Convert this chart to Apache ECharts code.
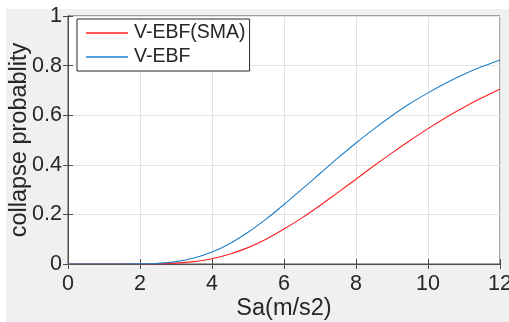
<!DOCTYPE html>
<html>
<head>
<meta charset="utf-8">
<script src="https://cdn.jsdelivr.net/npm/echarts@6/dist/echarts.min.js"></script>
<style>
  html, body { margin: 0; padding: 0; background: #fff; }
  #chart { width: 509px; height: 322px; }
</style>
</head>
<body>
<div id="chart"></div>
<script>
// Sa (m/s2) sample points
var saValues = [0, 0.5, 1, 1.5, 2, 2.5, 3, 3.5, 4, 4.5, 5, 5.5, 6, 6.5, 7, 7.5, 8, 8.5, 9, 9.5, 10, 10.5, 11, 11.5, 12];
// collapse probability, V-EBF(SMA)
var smaProb = [0, 0, 0, 0, 0.0001, 0.001, 0.0035, 0.0097, 0.021, 0.040, 0.066, 0.100, 0.141, 0.186, 0.236, 0.289, 0.342, 0.396, 0.448, 0.498, 0.546, 0.591, 0.632, 0.670, 0.706];
// collapse probability, V-EBF
var ebfProb = [0, 0, 0, 0, 0.0005, 0.0028, 0.0096, 0.024, 0.048, 0.083, 0.128, 0.181, 0.240, 0.302, 0.365, 0.428, 0.488, 0.545, 0.598, 0.647, 0.690, 0.730, 0.765, 0.796, 0.823];
var xTicks = [0, 2, 4, 6, 8, 10, 12];
var yTicks = [0, 0.2, 0.4, 0.6, 0.8, 1];

function pairs(ys) {
  return saValues.map(function (x, i) { return [x, ys[i]]; });
}

var font = 'Liberation Sans, Arial, Helvetica, sans-serif';
var textColor = '#262626';
var axisColor = '#4d4d4d';

var chart = echarts.init(document.getElementById('chart'));
var option = {
  animation: false,
  backgroundColor: '#fff',
  graphic: [{
    type: 'rect',
    z: -10,
    shape: { x: 6, y: 9, width: 503, height: 313 },
    style: { fill: '#f0f0f0' }
  }],
  grid: {
    left: 68, top: 16, width: 432, height: 248,
    outerBoundsMode: 'none',
    containLabel: false,
    show: true,
    backgroundColor: '#fff',
    borderColor: axisColor,
    borderWidth: 1
  },
  legend: {
    left: 77, top: 19,
    orient: 'vertical',
    icon: 'rect',
    itemWidth: 42,
    itemHeight: 1.3,
    itemGap: 4,
    padding: [4, 4, 4, 9],
    backgroundColor: '#fff',
    borderColor: '#262626',
    borderWidth: 1,
    borderRadius: 0,
    textStyle: { fontFamily: font, fontSize: 19.5, color: textColor, padding: [0, 0, 0, 1] },
    data: ['V-EBF(SMA)', 'V-EBF']
  },
  xAxis: [{
    type: 'value',
    min: 0, max: 12, interval: 2,
    name: 'Sa(m/s2)',
    nameLocation: 'middle',
    nameGap: 33,
    nameMoveOverlap: false,
    nameTextStyle: { fontFamily: font, fontSize: 23.5, color: textColor },
    axisLine: { show: true, lineStyle: { color: axisColor } },
    axisTick: { inside: true, length: 5, lineStyle: { color: axisColor } },
    axisLabel: { fontFamily: font, fontSize: 21.5, color: textColor, margin: 9,
      formatter: function (v) { return xTicks.indexOf(v) >= 0 ? String(v) : ''; } },
    splitLine: { show: true, lineStyle: { color: '#e3e3e3' } }
  }, {
    type: 'value',
    position: 'top',
    min: 0, max: 12, interval: 2,
    axisLine: { show: true, lineStyle: { color: axisColor } },
    axisTick: { inside: true, length: 5, lineStyle: { color: axisColor } },
    axisLabel: { show: false },
    splitLine: { show: false }
  }],
  yAxis: [{
    type: 'value',
    min: 0, max: 1, interval: 0.2,
    name: 'collapse probablity',
    nameLocation: 'middle',
    nameGap: 36,
    nameMoveOverlap: false,
    nameTextStyle: { fontFamily: font, fontSize: 23.5, color: textColor },
    axisLine: { show: true, lineStyle: { color: axisColor } },
    axisTick: { inside: true, length: 5, lineStyle: { color: axisColor } },
    axisLabel: { fontFamily: font, fontSize: 21.5, color: textColor, margin: 6,
      formatter: function (v) {
        for (var i = 0; i < yTicks.length; i++) {
          if (Math.abs(yTicks[i] - v) < 1e-9) return String(yTicks[i]);
        }
        return '';
      } },
    splitLine: { show: true, lineStyle: { color: '#e3e3e3' } }
  }, {
    type: 'value',
    position: 'right',
    min: 0, max: 1, interval: 0.2,
    axisLine: { show: true, lineStyle: { color: axisColor } },
    axisTick: { inside: true, length: 5, lineStyle: { color: axisColor } },
    axisLabel: { show: false },
    splitLine: { show: false }
  }],
  series: [{
    name: 'V-EBF(SMA)',
    type: 'line',
    data: pairs(smaProb),
    smooth: 0.3,
    symbol: 'none',
    lineStyle: { color: '#ff2020', width: 1.1 },
    itemStyle: { color: '#ff2020' }
  }, {
    name: 'V-EBF',
    type: 'line',
    data: pairs(ebfProb),
    smooth: 0.3,
    symbol: 'none',
    lineStyle: { color: '#1f7fc8', width: 1.1 },
    itemStyle: { color: '#1f7fc8' }
  }]
};
chart.setOption(option);
</script>
</body>
</html>
